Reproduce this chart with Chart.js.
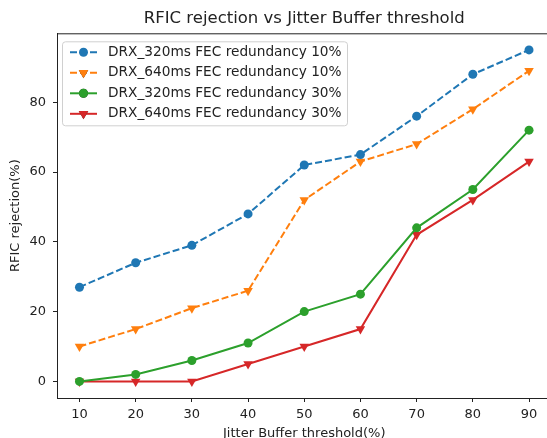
<!DOCTYPE html>
<html>
<head>
<meta charset="utf-8">
<script src="https://cdn.jsdelivr.net/npm/chart.js@4.4.1/dist/chart.umd.min.js"></script>
<style>
  html, body { margin: 0; padding: 0; background: #fff; overflow: hidden; }
  #wrap { width: 557px; height: 441px; }
</style>
</head>
<body>
<div id="wrap"><canvas id="chart" width="557" height="441"></canvas></div>
<script>
// --- Data ---
const thresholds = [10, 20, 30, 40, 50, 60, 70, 80, 90];
const drx320fec10 = [27, 34, 39, 48, 62, 65, 76, 88, 95];
const drx640fec10 = [10, 15, 21, 26, 52, 63, 68, 78, 89];
const drx320fec30 = [0, 2, 6, 11, 20, 25, 44, 55, 72];
const drx640fec30 = [0, 0, 0, 5, 10, 15, 42, 52, 63];
const seriesNames = [
    'DRX_320ms FEC redundancy 10%',
    'DRX_640ms FEC redundancy 10%',
    'DRX_320ms FEC redundancy 30%',
    'DRX_640ms FEC redundancy 30%'
];
const yTicks = [0, 20, 40, 60, 80];

const colors = ['#1f77b4', '#ff7f0e', '#2ca02c', '#d62728'];
const dashes = [[7, 3], [7, 3], [], []];
const markers = ['circle', 'triangle', 'circle', 'triangle'];
const FONT = 'DejaVu Sans';
const TEXT = '#222';

function makeSet(name, values, idx) {
    return {
        label: name,
        data: values.map((v, i) => ({x: thresholds[i], y: v})),
        borderColor: colors[idx],
        backgroundColor: colors[idx],
        borderWidth: 2,
        borderDash: dashes[idx],
        pointStyle: markers[idx],
        pointRotation: markers[idx] === 'triangle' ? 180 : 0,
        pointRadius: markers[idx] === 'triangle' ? 5.5 : 4.5,
        pointBorderWidth: 0,
        pointBackgroundColor: colors[idx],
        tension: 0,
        fill: false
    };
}

// top spine (right spine falls outside the picture)
const frame = {
    id: 'frame',
    afterDraw(chart) {
        const {ctx, chartArea: a} = chart;
        ctx.save();
        ctx.strokeStyle = '#222';
        ctx.lineWidth = 1;
        ctx.beginPath();
        ctx.moveTo(a.left, a.top + 0.5);
        ctx.lineTo(a.right, a.top + 0.5);
        ctx.stroke();
        ctx.restore();
    }
};

// matplotlib style legend box in the upper left
const boxLegend = {
    id: 'boxLegend',
    afterDraw(chart) {
        const {ctx, chartArea: a} = chart;
        const x0 = a.left + 5.5, y0 = a.top + 8.5, w = 285, h = 84;
        ctx.save();
        ctx.beginPath();
        ctx.roundRect(x0, y0, w, h, 3);
        ctx.fillStyle = 'rgba(255,255,255,0.8)';
        ctx.fill();
        ctx.strokeStyle = '#d0d0d0';
        ctx.lineWidth = 1;
        ctx.stroke();
        chart.data.datasets.forEach((ds, i) => {
            const y = a.top + 19 + i * 20.5;
            const hx1 = a.left + 13, hx2 = a.left + 40, mx = (hx1 + hx2) / 2;
            ctx.strokeStyle = ds.borderColor;
            ctx.lineWidth = 2;
            ctx.setLineDash(ds.borderDash);
            ctx.beginPath();
            ctx.moveTo(hx1, y);
            ctx.lineTo(hx2, y);
            ctx.stroke();
            ctx.setLineDash([]);
            Chart.helpers.drawPoint(ctx, {
                pointStyle: ds.pointStyle,
                rotation: ds.pointRotation,
                radius: ds.pointRadius,
                borderWidth: 0
            }, mx, y);
            ctx.fillStyle = ds.borderColor;
            ctx.fill();
            ctx.fillStyle = TEXT;
            ctx.font = '13.7px "' + FONT + '"';
            ctx.textBaseline = 'middle';
            ctx.textAlign = 'left';
            ctx.fillText(ds.label, a.left + 51, y);
        });
        ctx.restore();
    }
};

new Chart(document.getElementById('chart'), {
    type: 'line',
    data: {
        datasets: [
            makeSet(seriesNames[0], drx320fec10, 0),
            makeSet(seriesNames[1], drx640fec10, 1),
            makeSet(seriesNames[2], drx320fec30, 2),
            makeSet(seriesNames[3], drx640fec30, 3)
        ]
    },
    options: {
        responsive: false,
        animation: false,
        layout: {padding: {left: 0, right: 2, top: 0, bottom: 0}},
        plugins: {
            legend: {display: false},
            tooltip: {enabled: false},
            title: {
                display: true,
                text: 'RFIC rejection vs Jitter Buffer threshold',
                fullSize: false,
                color: TEXT,
                font: {family: FONT, size: 16.5, weight: 'normal'},
                padding: {top: 9.2, bottom: 4.3}
            }
        },
        scales: {
            x: {
                type: 'linear',
                min: 6,
                max: 94,
                afterBuildTicks: s => { s.ticks = thresholds.map(v => ({value: v})); },
                afterFit: s => { s.height = 43; },
                grid: {drawOnChartArea: false, drawTicks: true, tickLength: 4, tickColor: '#222'},
                border: {display: true, color: '#222', width: 1},
                ticks: {color: TEXT, padding: 5, font: {family: FONT, size: 13}},
                title: {display: true, text: 'Jitter Buffer threshold(%)', color: TEXT,
                        font: {family: FONT, size: 13}, padding: {top: 0, bottom: 0}}
            },
            y: {
                min: -4.75,
                max: 99.75,
                afterBuildTicks: s => { s.ticks = yTicks.map(v => ({value: v})); },
                afterFit: s => { s.width = 57; },
                grid: {drawOnChartArea: false, drawTicks: true, tickLength: 4, tickColor: '#222'},
                border: {display: true, color: '#222', width: 1},
                ticks: {color: TEXT, padding: 7, font: {family: FONT, size: 13}},
                title: {display: true, text: 'RFIC rejection(%)', color: TEXT,
                        font: {family: FONT, size: 13}, padding: {top: 8, bottom: 0}}
            }
        }
    },
    plugins: [frame, boxLegend]
});
</script>
</body>
</html>
